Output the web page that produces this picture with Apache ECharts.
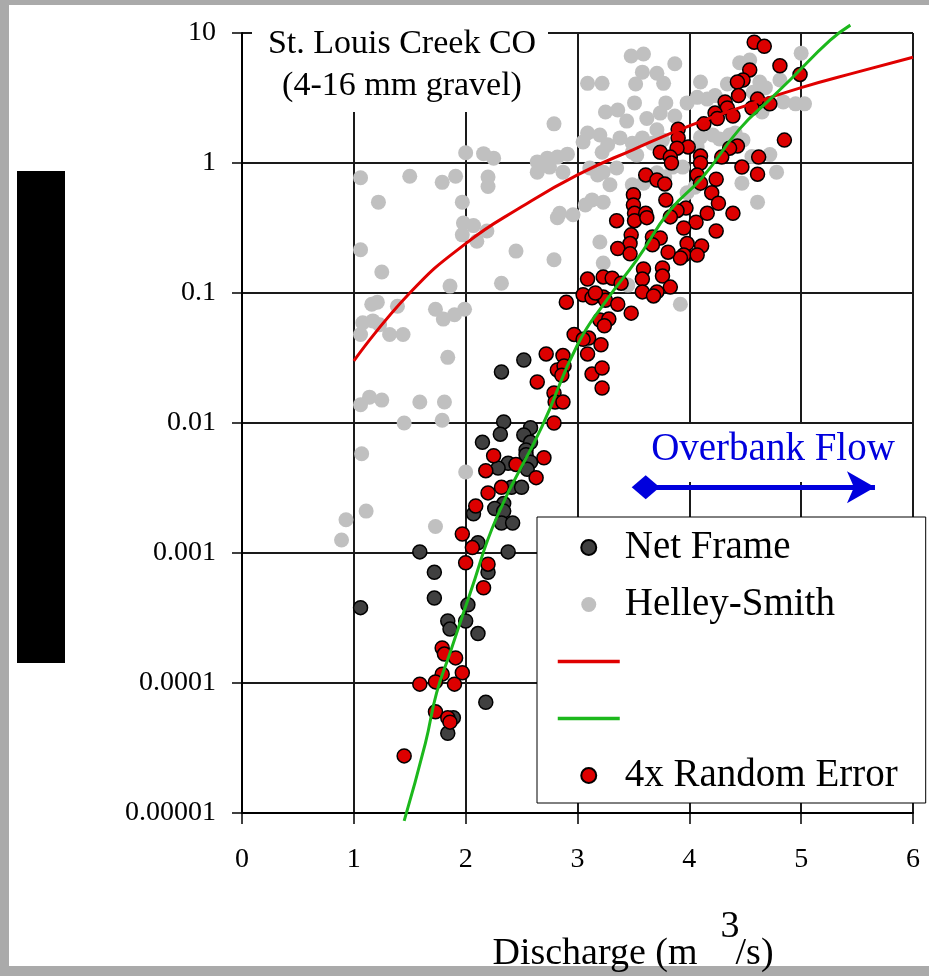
<!DOCTYPE html>
<html>
<head>
<meta charset="utf-8">
<script src="https://cdn.jsdelivr.net/npm/echarts@6/dist/echarts.min.js"></script>
<style>
  html, body { margin: 0; padding: 0; background: #fff; }
  #chart { width: 929px; height: 976px; }
</style>
</head>
<body>
<div id="chart"></div>
<script>
// tick labels
const xTickLabels = ['0', '1', '2', '3', '4', '5', '6'];
const yTickLabels = ['0.00001', '0.0001', '0.001', '0.01', '0.1', '1', '10'];

// Net Frame samples [discharge, value]
const netFrame = [
  [2.32, 0.0247], [2.52, 0.0305], [2.34, 0.0102], [2.31, 0.0082], [2.15, 0.0071], [2.58, 0.0092],
  [2.52, 0.0081], [2.58, 0.0071], [2.54, 0.0062], [2.54, 0.0057], [2.58, 0.005], [2.55, 0.0044],
  [2.38, 0.0049], [2.29, 0.0045], [2.41, 0.0032], [2.50, 0.0032], [2.34, 0.0024], [2.26, 0.0022],
  [2.34, 0.0021], [2.32, 0.0017], [2.42, 0.0017], [2.07, 0.002], [2.11, 0.0012], [1.59, 0.00102],
  [2.38, 0.00102], [1.72, 0.00071], [2.20, 0.00071], [1.72, 0.00045], [2.02, 0.0004], [1.06, 0.00038],
  [1.84, 0.0003], [2.00, 0.0003], [1.86, 0.00026], [2.11, 0.00024], [2.18, 0.000071], [1.89, 0.000054],
  [1.84, 0.000041]
];

// Helley-Smith samples
const helleySmith = [
  [2.79, 2.0], [2.00, 1.2], [2.16, 1.18], [2.25, 1.09], [2.64, 1.02], [2.73, 1.09], [2.82, 1.11],
  [2.91, 1.17], [2.64, 0.85], [2.87, 0.85], [2.75, 0.93], [1.06, 0.77], [1.50, 0.79], [1.79, 0.71],
  [1.91, 0.79], [2.20, 0.78], [2.20, 0.66], [1.22, 0.50], [1.97, 0.50], [1.98, 0.345], [2.07, 0.33],
  [1.97, 0.28], [2.10, 0.25], [2.19, 0.30], [2.84, 0.41], [2.96, 0.40], [2.82, 0.38], [1.06, 0.215],
  [2.45, 0.21], [2.79, 0.18], [1.25, 0.145], [1.86, 0.113], [2.32, 0.119], [1.21, 0.085], [1.16, 0.082],
  [1.39, 0.079], [1.73, 0.075], [1.80, 0.063], [1.90, 0.068], [1.99, 0.075], [1.08, 0.059], [1.17, 0.061],
  [1.23, 0.057], [1.06, 0.048], [1.32, 0.048], [1.44, 0.048], [1.84, 0.032], [1.06, 0.0138], [1.14, 0.0158],
  [1.25, 0.015], [1.59, 0.0145], [1.81, 0.0145], [1.45, 0.01], [1.79, 0.0105], [1.07, 0.0058], [2.00, 0.0042],
  [1.11, 0.0021], [0.93, 0.0018], [0.89, 0.00126], [1.73, 0.0016],
  [3.48, 6.65], [3.59, 6.9], [3.87, 5.8], [3.58, 5.0], [3.71, 4.9], [3.77, 4.1], [3.09, 4.1], [3.22, 4.1],
  [3.52, 4.05], [4.10, 4.2], [4.45, 5.9], [4.54, 6.2], [4.34, 4.05], [4.07, 3.2], [3.98, 2.9], [4.16, 3.1],
  [4.23, 3.3], [3.51, 2.9], [3.79, 2.9], [3.25, 2.47], [3.36, 2.56], [3.44, 2.1], [3.62, 2.2], [3.74, 2.42],
  [3.87, 2.3], [3.09, 1.7], [3.20, 1.64], [3.05, 1.45], [3.38, 1.56], [3.58, 1.56], [3.49, 1.42], [3.27, 1.38],
  [3.22, 1.21], [3.71, 1.8], [3.76, 1.5], [3.67, 1.42], [4.10, 1.58], [4.21, 1.64], [4.27, 1.53], [4.07, 1.33],
  [4.36, 1.64], [3.49, 1.21], [3.53, 1.15], [3.11, 0.915], [3.23, 0.85], [3.35, 0.915], [3.18, 0.81],
  [3.29, 0.68], [3.49, 0.68], [3.59, 0.70], [3.71, 0.84], [3.78, 0.78], [3.85, 0.93], [3.94, 0.93],
  [3.13, 0.52], [3.23, 0.50], [3.07, 0.475], [3.98, 0.59], [4.05, 0.65], [3.20, 0.247], [3.23, 0.17],
  [3.45, 0.115], [3.92, 0.082], [4.61, 0.50], [4.47, 0.70], [4.41, 1.7],
  [5.0, 7.0], [4.81, 4.35], [4.63, 4.2], [4.68, 3.8], [4.57, 3.5], [4.84, 2.95], [4.95, 2.85], [5.03, 2.85],
  [4.65, 2.47], [4.48, 1.5], [4.72, 1.16], [4.56, 1.12], [4.78, 0.85]
];

// 4x random error samples
const randomError = [
  [4.58, 8.5], [4.67, 7.9], [4.81, 5.6], [4.54, 5.2], [4.99, 4.8], [4.48, 4.35], [4.43, 4.2], [4.44, 3.3],
  [4.61, 3.1], [4.72, 2.85], [4.56, 2.65], [4.32, 2.95], [4.34, 2.65], [4.23, 2.42], [4.25, 2.2], [4.39, 2.3],
  [4.13, 2.0], [3.90, 1.82], [3.90, 1.56], [3.99, 1.33], [3.89, 1.3], [3.74, 1.21], [3.83, 1.11], [3.84, 1.0],
  [4.10, 1.13], [4.10, 1.0], [4.43, 1.35], [4.36, 1.3], [4.29, 1.11], [4.47, 0.93], [4.62, 1.11], [4.61, 0.82],
  [4.85, 1.5], [3.61, 0.81], [3.71, 0.74], [3.78, 0.69], [4.07, 0.81], [4.10, 0.70], [4.24, 0.75], [4.20, 0.59],
  [4.26, 0.49], [4.39, 0.41], [3.50, 0.57], [3.79, 0.52], [3.50, 0.475], [3.51, 0.41], [3.51, 0.36], [3.61, 0.41],
  [3.62, 0.38], [3.35, 0.36], [3.97, 0.45], [3.89, 0.43], [3.83, 0.385], [4.16, 0.41], [4.06, 0.35], [3.95, 0.316],
  [4.24, 0.30], [3.48, 0.28], [3.47, 0.24], [3.36, 0.22], [3.47, 0.20], [3.67, 0.27], [3.74, 0.265], [3.67, 0.235],
  [3.98, 0.24], [4.11, 0.23], [3.95, 0.196], [4.07, 0.196], [3.92, 0.186], [3.81, 0.206], [3.59, 0.153],
  [3.58, 0.128], [3.58, 0.102], [3.76, 0.156], [3.76, 0.135], [3.83, 0.111], [3.71, 0.102], [3.68, 0.095],
  [3.09, 0.128], [3.23, 0.133], [3.31, 0.13], [3.39, 0.119], [3.05, 0.097], [3.13, 0.092], [3.23, 0.093],
  [3.25, 0.088], [3.16, 0.1], [3.36, 0.082], [3.48, 0.070], [2.90, 0.085], [3.20, 0.062], [3.28, 0.063],
  [3.24, 0.056], [2.97, 0.048], [3.10, 0.045], [3.05, 0.044], [3.21, 0.040], [3.09, 0.034], [2.72, 0.034],
  [2.87, 0.033], [2.82, 0.0256], [2.88, 0.0275], [2.86, 0.0233], [3.13, 0.0238], [3.22, 0.0265], [2.64, 0.0207],
  [3.22, 0.0186], [2.79, 0.017], [2.80, 0.0145], [2.87, 0.0145], [2.79, 0.01], [2.25, 0.0056], [2.45, 0.0048],
  [2.70, 0.0054], [2.18, 0.0043], [2.63, 0.0038], [2.32, 0.0032], [2.20, 0.0029], [2.09, 0.0023], [1.97, 0.0014],
  [2.06, 0.0011], [2.00, 0.00084], [2.20, 0.00082], [2.16, 0.00054], [1.79, 0.000186], [1.81, 0.000167],
  [1.91, 0.000156], [1.97, 0.00012], [1.79, 0.000117], [1.59, 0.000098], [1.73, 0.000102], [1.90, 0.000098],
  [1.73, 0.00006], [1.84, 0.000054], [1.86, 0.00005], [1.45, 0.0000275]
];

// fitted curves
const redCurve = [
  [1.0, 0.030], [1.5, 0.10], [2.0, 0.24], [2.5, 0.46], [3.0, 0.81], [3.5, 1.27],
  [4.0, 1.93], [4.5, 2.75], [5.0, 3.8], [5.5, 5.0], [6.0, 6.5]
];
const greenCurve = [
  [1.45, 0.0000087], [1.64, 0.0000345], [1.74, 0.000084], [1.86, 0.00017], [2.04, 0.00049],
  [2.28, 0.0019], [2.68, 0.0093], [3.0, 0.04], [3.26, 0.088], [3.53, 0.18], [3.83, 0.435],
  [4.12, 0.78], [4.45, 1.83], [4.74, 3.2], [4.9, 4.35], [5.26, 8.8], [5.44, 11.5]
];

// overbank flow arrow ends
const overbankArrow = [[3.61, 0.0032], [5.66, 0.0032]];

const serif = 'Liberation Serif';
const chart = echarts.init(document.getElementById('chart'), null, { renderer: 'canvas' });

const option = {
  backgroundColor: '#ffffff',
  animation: false,
  grid: { left: 242, right: 16, top: 33, bottom: 163, containLabel: false, outerBoundsMode: 'none' },
  legend: {
    orient: 'vertical',
    left: 537,
    top: 517,
    selectedMode: false,
    data: [
      { name: 'Net Frame', icon: 'circle' },
      { name: 'Helley-Smith', icon: 'circle' },
      { name: ' ', itemStyle: { opacity: 0 }, lineStyle: { width: 3.5 } },
      { name: '  ', itemStyle: { opacity: 0 }, lineStyle: { width: 3.5 } },
      { name: '4x Random Error', icon: 'circle' }
    ],
    itemWidth: 62,
    itemHeight: 15,
    itemGap: 18,
    padding: [11, 28, 8, 19],
    backgroundColor: '#ffffff',
    borderColor: '#000000',
    borderWidth: 1,
    textStyle: { fontFamily: serif, fontSize: 39, color: '#000', lineHeight: 39 }
  },
  xAxis: {
    type: 'value',
    min: 0,
    max: 6,
    interval: 1,
    axisLine: { lineStyle: { color: '#000', width: 2 } },
    axisTick: { show: true, length: 11, lineStyle: { color: '#000', width: 1.5 } },
    splitLine: { show: true, lineStyle: { color: '#1a1a1a', width: 2 } },
    axisLabel: {
      fontFamily: serif, fontSize: 28, color: '#000', margin: 33,
      formatter: v => xTickLabels[Math.round(v)]
    },
    name: 'Discharge (m    /s)',
    nameLocation: 'middle',
    nameGap: 122,
    nameTextStyle: { fontFamily: serif, fontSize: 38, color: '#000', padding: [0, 0, 0, 111] }
  },
  yAxis: {
    type: 'log',
    logBase: 10,
    min: 0.00001,
    max: 10,
    splitNumber: 6,
    axisLine: { lineStyle: { color: '#000', width: 2 } },
    axisTick: { show: true, length: 10, lineStyle: { color: '#000', width: 1.5 } },
    splitLine: { show: true, lineStyle: { color: '#1a1a1a', width: 2 } },
    axisLabel: {
      fontFamily: serif, fontSize: 28, color: '#000', margin: 26,
      formatter: v => yTickLabels[Math.round(Math.log10(v)) + 5]
    }
  },
  series: [
    {
      name: ' ',
      type: 'line',
      data: redCurve,
      symbol: 'none',
      smooth: true,
      lineStyle: { color: '#e00000', width: 3 },
      itemStyle: { color: '#e00000' }
    },
    {
      name: 'Helley-Smith',
      type: 'scatter',
      data: helleySmith,
      symbolSize: 15,
      itemStyle: { color: '#c0c0c0', opacity: 1 }
    },
    {
      name: 'Net Frame',
      type: 'scatter',
      data: netFrame,
      symbolSize: 14,
      itemStyle: { color: '#404040', borderColor: '#000', borderWidth: 1.5, opacity: 1 }
    },
    {
      name: '  ',
      type: 'line',
      data: greenCurve,
      symbol: 'none',
      smooth: true,
      clip: false,
      lineStyle: { color: '#1cb81c', width: 3 },
      itemStyle: { color: '#1cb81c' }
    },
    {
      name: '4x Random Error',
      type: 'scatter',
      data: randomError,
      symbolSize: 14,
      itemStyle: { color: '#dd0000', borderColor: '#000', borderWidth: 1.5, opacity: 1 }
    },
    {
      name: 'overbank',
      type: 'line',
      data: [],
      markLine: {
        silent: true,
        symbol: ['diamond', 'arrow'],
        symbolSize: [24, 28],
        lineStyle: { color: '#0000dd', width: 5, type: 'solid' },
        label: { show: false },
        data: [[{ coord: overbankArrow[0] }, { coord: overbankArrow[1] }]]
      }
    }
  ],
  graphic: [
    // outer frame
    { type: 'rect', z: -1, shape: { x: 0, y: 0, width: 929, height: 5 }, style: { fill: '#aaaaaa' } },
    { type: 'rect', z: -1, shape: { x: 0, y: 0, width: 9, height: 976 }, style: { fill: '#aaaaaa' } },
    { type: 'rect', z: -1, shape: { x: 0, y: 966, width: 929, height: 10 }, style: { fill: '#aaaaaa' } },
    // y axis title (blacked out)
    { type: 'rect', z: -1, shape: { x: 17, y: 171, width: 48, height: 492 }, style: { fill: '#000000' } },
    // title box
    { type: 'rect', z: 1, shape: { x: 252, y: 18, width: 296, height: 94 }, style: { fill: '#ffffff' } },
    {
      type: 'text', z: 3, x: 402, y: 23,
      style: {
        text: 'St. Louis Creek CO\n(4-16 mm gravel)',
        font: '34px "Liberation Serif"', fill: '#000', align: 'center', verticalAlign: 'top', lineHeight: 42
      }
    },
    // overbank label
    { type: 'rect', z: 1, shape: { x: 635, y: 424, width: 276, height: 58 }, style: { fill: '#ffffff' } },
    {
      type: 'text', z: 3, x: 773, y: 450,
      style: { text: 'Overbank Flow', font: '39px "Liberation Serif"', fill: '#0000dd', align: 'center', verticalAlign: 'middle' }
    },
    // superscript on the axis unit
    {
      type: 'text', z: 3, x: 730, y: 927,
      style: { text: '3', font: '38px "Liberation Serif"', fill: '#000', align: 'center', verticalAlign: 'middle' }
    }
  ]
};

chart.setOption(option);
</script>
</body>
</html>
